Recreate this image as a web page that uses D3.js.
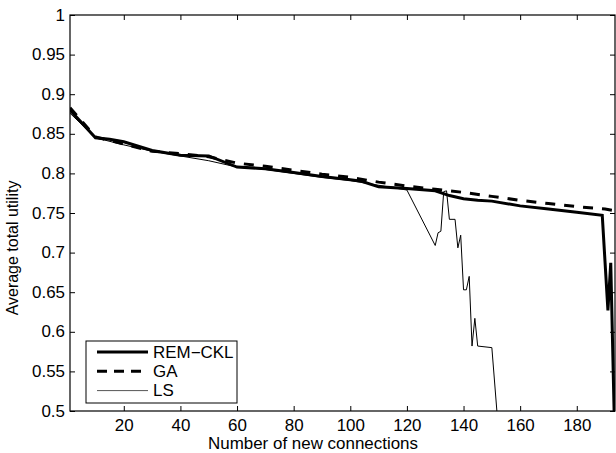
<!DOCTYPE html>
<html>
<head>
<meta charset="utf-8">
<script src="https://cdn.jsdelivr.net/npm/d3@7/dist/d3.min.js"></script>
<style>
html,body{margin:0;padding:0;background:#fff;}
svg{display:block;}
text{font-family:"Liberation Sans",Arial,Helvetica,sans-serif;fill:#000;}
</style>
</head>
<body>
<svg id="chart" width="616" height="453"></svg>
<script>
// ---- data ----
const remX = [1, 10, 15, 20, 30, 40, 50, 60, 70, 80, 90, 100, 104, 110, 120, 130, 135, 140, 145, 150, 160, 170, 180, 189, 191, 192, 193.5];
const remY = [0.880, 0.845, 0.843, 0.840, 0.829, 0.823, 0.822, 0.808, 0.806, 0.801, 0.796, 0.792, 0.790, 0.783, 0.781, 0.778, 0.772, 0.768, 0.766, 0.765, 0.759, 0.755, 0.751, 0.747, 0.627, 0.687, 0.45];
const gaX = [1, 10, 20, 30, 40, 50, 60, 70, 80, 90, 100, 110, 120, 130, 140, 150, 160, 170, 180, 190, 194];
const gaY = [0.883, 0.846, 0.837, 0.828, 0.825, 0.821, 0.813, 0.809, 0.804, 0.799, 0.795, 0.789, 0.784, 0.780, 0.776, 0.771, 0.766, 0.762, 0.758, 0.755, 0.7525];
const lsX = [1, 10, 20, 30, 40, 50, 60, 70, 80, 90, 100, 110, 120, 130, 131, 132, 133, 134, 135, 137, 138, 139, 140, 141, 142, 143, 144, 145, 150, 152];
const lsY = [0.876, 0.845, 0.836, 0.828, 0.822, 0.816, 0.808, 0.805, 0.800, 0.795, 0.791, 0.785, 0.779, 0.709, 0.725, 0.727, 0.777, 0.778, 0.742, 0.742, 0.706, 0.722, 0.653, 0.653, 0.670, 0.582, 0.617, 0.582, 0.580, 0.49];
const xTicks = [20, 40, 60, 80, 100, 120, 140, 160, 180];
const yTicks = [0.5, 0.55, 0.6, 0.65, 0.7, 0.75, 0.8, 0.85, 0.9, 0.95, 1];
const seriesNames = ["REM\u2212CKL", "GA", "LS"];
const xLabel = "Number of new connections";
const yLabel = "Average total utility";

// ---- layout ----
const L = 70, T = 15, R = 615, B = 411;
const fs = 16, stretch = 1.06;
const svg = d3.select("#chart");
const x = d3.scaleLinear().domain([1, 193.5]).range([L, R]);
const y = d3.scaleLinear().domain([0.5, 1]).range([B, T]);

svg.append("defs").append("clipPath").attr("id", "clip")
  .append("rect").attr("x", L).attr("y", T).attr("width", R - L).attr("height", B - T);

// axes
const axB = svg.append("g").attr("transform", `translate(0,${B})`)
  .call(d3.axisBottom(x).tickValues(xTicks).tickSizeInner(-5).tickSizeOuter(0).tickPadding(9).tickFormat(d3.format("d")));
const axT = svg.append("g").attr("transform", `translate(0,${T})`)
  .call(d3.axisTop(x).tickValues(xTicks).tickSizeInner(-5).tickSizeOuter(0).tickFormat(""));
const axL = svg.append("g").attr("transform", `translate(${L},0)`)
  .call(d3.axisLeft(y).tickValues(yTicks).tickSizeInner(-5).tickSizeOuter(0).tickPadding(5).tickFormat(d => String(+d.toFixed(2))));
const axR = svg.append("g").attr("transform", `translate(${R},0)`)
  .call(d3.axisRight(y).tickValues(yTicks).tickSizeInner(-5).tickSizeOuter(0).tickFormat(""));
[axB, axT, axL, axR].forEach(a => {
  a.select(".domain").remove();
  a.selectAll(".tick line").attr("stroke", "#000").attr("stroke-width", 1);
  a.selectAll("text").attr("font-size", fs).attr("font-family", "Liberation Sans, Arial, sans-serif").attr("fill", "#000");
});
svg.append("rect").attr("x", L).attr("y", T).attr("width", R - L).attr("height", B - T)
  .attr("fill", "none").attr("stroke", "#000").attr("stroke-width", 1.2);

// lines
const line = (xs, ys) => d3.line().x((d, i) => x(xs[i])).y((d, i) => y(ys[i]))(ys);
const plot = svg.append("g").attr("clip-path", "url(#clip)");
plot.append("path").attr("d", line(lsX, lsY)).attr("fill", "none").attr("stroke", "#000").attr("stroke-width", 1);
plot.append("path").attr("d", line(gaX, gaY)).attr("fill", "none").attr("stroke", "#000").attr("stroke-width", 3).attr("stroke-dasharray", "10,9");
plot.append("path").attr("d", line(remX, remY)).attr("fill", "none").attr("stroke", "#000").attr("stroke-width", 3);

// labels
const texts = svg.append("g");
texts.append("text").attr("x", 313).attr("y", 449).attr("text-anchor", "middle").attr("font-size", fs).text(xLabel);

// legend
const lg = svg.append("g");
lg.append("rect").attr("x", 86).attr("y", 341).attr("width", 151).attr("height", 62).attr("fill", "#fff").attr("stroke", "#000").attr("stroke-width", 1);
const styles = [{w: 3, dash: null, c: "#000"}, {w: 3, dash: "10,7", c: "#000"}, {w: 1, dash: null, c: "#555"}];
seriesNames.forEach((n, i) => {
  const cy = 352 + i * 19.3;
  const l = lg.append("line").attr("x1", 97).attr("x2", 148).attr("y1", cy).attr("y2", cy).attr("stroke", styles[i].c).attr("stroke-width", styles[i].w);
  if (styles[i].dash) l.attr("stroke-dasharray", styles[i].dash);
  lg.append("text").attr("x", 153).attr("y", cy).attr("dy", "0.35em").attr("font-size", fs).text(n);
});

// horizontal stretch of all upright text, around each anchor
svg.selectAll("text").each(function() {
  const t = d3.select(this);
  const x0 = +t.attr("x") || 0;
  t.attr("transform", `translate(${x0 * (1 - stretch)},0) scale(${stretch},1)`);
});
// rotated y label
svg.append("text").attr("transform", `translate(18,248) scale(${stretch},1) rotate(-90)`)
  .attr("text-anchor", "middle").attr("font-size", fs).text(yLabel);
</script>
</body>
</html>
